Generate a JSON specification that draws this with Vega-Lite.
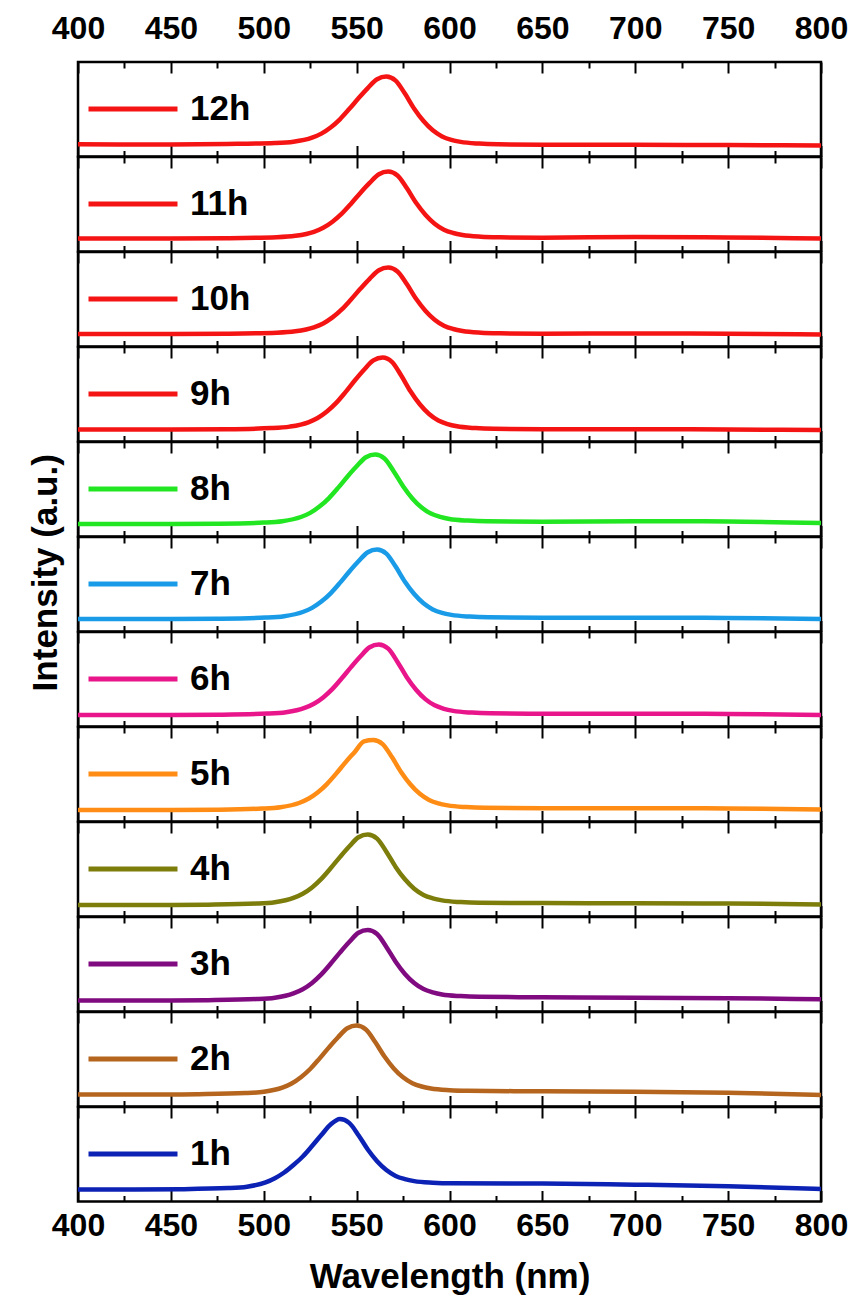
{
"$schema":"https://vega.github.io/schema/vega-lite/v6.json",
"padding":{"left":29,"top":5,"right":0,"bottom":0},
"background":"white",
"title":{"text":"Intensity (a.u.)","orient":"left","anchor":"middle","frame":"bounds","offset":-14,"dx":78,"font":"Liberation Sans","fontSize":35,"fontWeight":"bold","color":"black"},
"data":{"values":[
{"s":"12h","nm":400,"v":12.2},{"s":"12h","nm":450,"v":12},{"s":"12h","nm":480,"v":12.5},{"s":"12h","nm":506,"v":13.4},{"s":"12h","nm":516,"v":14.7},{"s":"12h","nm":526,"v":18.8},{"s":"12h","nm":531,"v":22.9},{"s":"12h","nm":536,"v":29},{"s":"12h","nm":541,"v":37.2},{"s":"12h","nm":546,"v":47.4},{"s":"12h","nm":551,"v":58.2},{"s":"12h","nm":556,"v":68.4},{"s":"12h","nm":561,"v":77.3},{"s":"12h","nm":566,"v":80},{"s":"12h","nm":571,"v":75.9},{"s":"12h","nm":576,"v":62.9},{"s":"12h","nm":581,"v":47.8},{"s":"12h","nm":586,"v":35.5},{"s":"12h","nm":591,"v":26.2},{"s":"12h","nm":596,"v":20.1},{"s":"12h","nm":601,"v":16.6},{"s":"12h","nm":606,"v":14.6},{"s":"12h","nm":616,"v":12.9},{"s":"12h","nm":626,"v":12.2},{"s":"12h","nm":650,"v":11.8},{"s":"12h","nm":700,"v":11.7},{"s":"12h","nm":750,"v":11.5},{"s":"12h","nm":800,"v":11},
{"s":"11h","nm":400,"v":13},{"s":"11h","nm":450,"v":13},{"s":"11h","nm":480,"v":13.3},{"s":"11h","nm":507,"v":14.3},{"s":"11h","nm":517,"v":15.7},{"s":"11h","nm":527,"v":19.7},{"s":"11h","nm":532,"v":23.7},{"s":"11h","nm":537,"v":29.8},{"s":"11h","nm":542,"v":37.8},{"s":"11h","nm":547,"v":47.8},{"s":"11h","nm":552,"v":58.6},{"s":"11h","nm":557,"v":68.6},{"s":"11h","nm":562,"v":77.3},{"s":"11h","nm":567,"v":80},{"s":"11h","nm":572,"v":76},{"s":"11h","nm":577,"v":63.4},{"s":"11h","nm":582,"v":48.7},{"s":"11h","nm":587,"v":36.8},{"s":"11h","nm":592,"v":27.8},{"s":"11h","nm":597,"v":21.8},{"s":"11h","nm":602,"v":18.5},{"s":"11h","nm":607,"v":16.5},{"s":"11h","nm":617,"v":14.8},{"s":"11h","nm":627,"v":14.2},{"s":"11h","nm":650,"v":13.8},{"s":"11h","nm":700,"v":14.5},{"s":"11h","nm":750,"v":14},{"s":"11h","nm":800,"v":13},
{"s":"10h","nm":400,"v":12.5},{"s":"10h","nm":450,"v":12.5},{"s":"10h","nm":480,"v":12.8},{"s":"10h","nm":507,"v":13.8},{"s":"10h","nm":517,"v":15.2},{"s":"10h","nm":527,"v":19.2},{"s":"10h","nm":532,"v":23.1},{"s":"10h","nm":537,"v":29.1},{"s":"10h","nm":542,"v":37.1},{"s":"10h","nm":547,"v":47.1},{"s":"10h","nm":552,"v":57.7},{"s":"10h","nm":557,"v":67.7},{"s":"10h","nm":562,"v":76.3},{"s":"10h","nm":567,"v":79},{"s":"10h","nm":572,"v":75},{"s":"10h","nm":577,"v":62.4},{"s":"10h","nm":582,"v":47.7},{"s":"10h","nm":587,"v":35.8},{"s":"10h","nm":592,"v":26.8},{"s":"10h","nm":597,"v":20.8},{"s":"10h","nm":602,"v":17.5},{"s":"10h","nm":607,"v":15.5},{"s":"10h","nm":617,"v":13.8},{"s":"10h","nm":627,"v":13.2},{"s":"10h","nm":650,"v":12.8},{"s":"10h","nm":700,"v":13},{"s":"10h","nm":750,"v":12.8},{"s":"10h","nm":800,"v":12},
{"s":"9h","nm":400,"v":12},{"s":"9h","nm":450,"v":12},{"s":"9h","nm":480,"v":12.3},{"s":"9h","nm":504,"v":13.4},{"s":"9h","nm":514,"v":14.9},{"s":"9h","nm":524,"v":19.2},{"s":"9h","nm":529,"v":23.5},{"s":"9h","nm":534,"v":30},{"s":"9h","nm":539,"v":38.6},{"s":"9h","nm":544,"v":49.4},{"s":"9h","nm":549,"v":61},{"s":"9h","nm":554,"v":71.8},{"s":"9h","nm":559,"v":81.1},{"s":"9h","nm":564,"v":84},{"s":"9h","nm":569,"v":79.7},{"s":"9h","nm":574,"v":66},{"s":"9h","nm":579,"v":50.2},{"s":"9h","nm":584,"v":37.2},{"s":"9h","nm":589,"v":27.5},{"s":"9h","nm":594,"v":21},{"s":"9h","nm":599,"v":17.4},{"s":"9h","nm":604,"v":15.2},{"s":"9h","nm":614,"v":13.4},{"s":"9h","nm":624,"v":12.7},{"s":"9h","nm":650,"v":12.3},{"s":"9h","nm":700,"v":12.3},{"s":"9h","nm":750,"v":12},{"s":"9h","nm":800,"v":11.5},
{"s":"8h","nm":400,"v":12.5},{"s":"8h","nm":450,"v":12.5},{"s":"8h","nm":475,"v":12.8},{"s":"8h","nm":500,"v":13.9},{"s":"8h","nm":510,"v":15.3},{"s":"8h","nm":520,"v":19.5},{"s":"8h","nm":525,"v":23.6},{"s":"8h","nm":530,"v":29.9},{"s":"8h","nm":535,"v":38.2},{"s":"8h","nm":540,"v":48.6},{"s":"8h","nm":545,"v":59.8},{"s":"8h","nm":550,"v":70.2},{"s":"8h","nm":555,"v":79.2},{"s":"8h","nm":560,"v":82},{"s":"8h","nm":565,"v":78},{"s":"8h","nm":570,"v":65.1},{"s":"8h","nm":575,"v":50.3},{"s":"8h","nm":580,"v":38.1},{"s":"8h","nm":585,"v":29},{"s":"8h","nm":590,"v":22.9},{"s":"8h","nm":595,"v":19.6},{"s":"8h","nm":600,"v":17.5},{"s":"8h","nm":610,"v":15.9},{"s":"8h","nm":620,"v":15.2},{"s":"8h","nm":650,"v":14.8},{"s":"8h","nm":700,"v":15.3},{"s":"8h","nm":750,"v":15},{"s":"8h","nm":800,"v":13.5},
{"s":"7h","nm":400,"v":12.5},{"s":"7h","nm":450,"v":12.5},{"s":"7h","nm":475,"v":12.8},{"s":"7h","nm":501,"v":13.9},{"s":"7h","nm":511,"v":15.3},{"s":"7h","nm":521,"v":19.5},{"s":"7h","nm":526,"v":23.6},{"s":"7h","nm":531,"v":29.9},{"s":"7h","nm":536,"v":38.2},{"s":"7h","nm":541,"v":48.6},{"s":"7h","nm":546,"v":59.8},{"s":"7h","nm":551,"v":70.2},{"s":"7h","nm":556,"v":79.2},{"s":"7h","nm":561,"v":82},{"s":"7h","nm":566,"v":77.9},{"s":"7h","nm":571,"v":64.9},{"s":"7h","nm":576,"v":49.8},{"s":"7h","nm":581,"v":37.5},{"s":"7h","nm":586,"v":28.2},{"s":"7h","nm":591,"v":22.1},{"s":"7h","nm":596,"v":18.6},{"s":"7h","nm":601,"v":16.6},{"s":"7h","nm":611,"v":14.9},{"s":"7h","nm":621,"v":14.2},{"s":"7h","nm":650,"v":13.8},{"s":"7h","nm":700,"v":13.8},{"s":"7h","nm":750,"v":13.5},{"s":"7h","nm":800,"v":12.5},
{"s":"6h","nm":400,"v":11.5},{"s":"6h","nm":450,"v":11.5},{"s":"6h","nm":475,"v":11.8},{"s":"6h","nm":502,"v":12.9},{"s":"6h","nm":512,"v":14.3},{"s":"6h","nm":522,"v":18.6},{"s":"6h","nm":527,"v":22.8},{"s":"6h","nm":532,"v":29.1},{"s":"6h","nm":537,"v":37.6},{"s":"6h","nm":542,"v":48.2},{"s":"6h","nm":547,"v":59.4},{"s":"6h","nm":552,"v":70},{"s":"6h","nm":557,"v":79.2},{"s":"6h","nm":562,"v":82},{"s":"6h","nm":567,"v":77.8},{"s":"6h","nm":572,"v":64.6},{"s":"6h","nm":577,"v":49.3},{"s":"6h","nm":582,"v":36.8},{"s":"6h","nm":587,"v":27.4},{"s":"6h","nm":592,"v":21.2},{"s":"6h","nm":597,"v":17.7},{"s":"6h","nm":602,"v":15.6},{"s":"6h","nm":612,"v":13.9},{"s":"6h","nm":622,"v":13.2},{"s":"6h","nm":650,"v":12.8},{"s":"6h","nm":700,"v":12.8},{"s":"6h","nm":750,"v":12.5},{"s":"6h","nm":800,"v":11.5},
{"s":"5h","nm":400,"v":11.5},{"s":"5h","nm":450,"v":11.5},{"s":"5h","nm":475,"v":11.8},{"s":"5h","nm":499,"v":12.9},{"s":"5h","nm":509,"v":14.3},{"s":"5h","nm":519,"v":18.5},{"s":"5h","nm":524,"v":22.7},{"s":"5h","nm":529,"v":29},{"s":"5h","nm":534,"v":37.4},{"s":"5h","nm":539,"v":47.9},{"s":"5h","nm":544,"v":59.1},{"s":"5h","nm":549,"v":69.6},{"s":"5h","nm":554,"v":80.1},{"s":"5h","nm":559,"v":81.5},{"s":"5h","nm":564,"v":77.4},{"s":"5h","nm":569,"v":64.4},{"s":"5h","nm":574,"v":49.3},{"s":"5h","nm":579,"v":37},{"s":"5h","nm":584,"v":27.7},{"s":"5h","nm":589,"v":21.6},{"s":"5h","nm":594,"v":18.1},{"s":"5h","nm":599,"v":16.1},{"s":"5h","nm":609,"v":14.4},{"s":"5h","nm":619,"v":13.7},{"s":"5h","nm":650,"v":13.3},{"s":"5h","nm":700,"v":13.3},{"s":"5h","nm":750,"v":13},{"s":"5h","nm":800,"v":12},
{"s":"4h","nm":400,"v":11.5},{"s":"4h","nm":450,"v":11.5},{"s":"4h","nm":470,"v":11.8},{"s":"4h","nm":496,"v":12.9},{"s":"4h","nm":506,"v":14.3},{"s":"4h","nm":516,"v":18.6},{"s":"4h","nm":521,"v":22.8},{"s":"4h","nm":526,"v":29.1},{"s":"4h","nm":531,"v":37.6},{"s":"4h","nm":536,"v":48.2},{"s":"4h","nm":541,"v":59.4},{"s":"4h","nm":546,"v":70},{"s":"4h","nm":551,"v":79.2},{"s":"4h","nm":556,"v":82},{"s":"4h","nm":561,"v":77.9},{"s":"4h","nm":566,"v":64.8},{"s":"4h","nm":571,"v":49.6},{"s":"4h","nm":576,"v":37.2},{"s":"4h","nm":581,"v":27.8},{"s":"4h","nm":586,"v":21.6},{"s":"4h","nm":591,"v":18.2},{"s":"4h","nm":596,"v":16.1},{"s":"4h","nm":606,"v":14.4},{"s":"4h","nm":616,"v":13.7},{"s":"4h","nm":650,"v":13.4},{"s":"4h","nm":700,"v":13.3},{"s":"4h","nm":750,"v":13},{"s":"4h","nm":800,"v":12},
{"s":"3h","nm":400,"v":11},{"s":"3h","nm":450,"v":11},{"s":"3h","nm":470,"v":11.3},{"s":"3h","nm":496,"v":12.4},{"s":"3h","nm":506,"v":13.8},{"s":"3h","nm":516,"v":18.1},{"s":"3h","nm":521,"v":22.3},{"s":"3h","nm":526,"v":28.6},{"s":"3h","nm":531,"v":37.1},{"s":"3h","nm":536,"v":47.7},{"s":"3h","nm":541,"v":58.9},{"s":"3h","nm":546,"v":69.5},{"s":"3h","nm":551,"v":78.7},{"s":"3h","nm":556,"v":81.5},{"s":"3h","nm":561,"v":77.5},{"s":"3h","nm":566,"v":64.6},{"s":"3h","nm":571,"v":49.8},{"s":"3h","nm":576,"v":37.6},{"s":"3h","nm":581,"v":28.5},{"s":"3h","nm":586,"v":22.4},{"s":"3h","nm":591,"v":19.1},{"s":"3h","nm":596,"v":17},{"s":"3h","nm":606,"v":15.4},{"s":"3h","nm":616,"v":14.7},{"s":"3h","nm":650,"v":14.2},{"s":"3h","nm":700,"v":13.8},{"s":"3h","nm":750,"v":13.3},{"s":"3h","nm":800,"v":12.3},
{"s":"2h","nm":400,"v":12},{"s":"2h","nm":450,"v":12},{"s":"2h","nm":465,"v":12.3},{"s":"2h","nm":490,"v":13.4},{"s":"2h","nm":500,"v":14.8},{"s":"2h","nm":510,"v":18.9},{"s":"2h","nm":515,"v":23},{"s":"2h","nm":520,"v":29.3},{"s":"2h","nm":525,"v":37.5},{"s":"2h","nm":530,"v":47.9},{"s":"2h","nm":535,"v":58.9},{"s":"2h","nm":540,"v":69.3},{"s":"2h","nm":545,"v":78.2},{"s":"2h","nm":550,"v":81},{"s":"2h","nm":555,"v":77},{"s":"2h","nm":560,"v":64.5},{"s":"2h","nm":565,"v":50},{"s":"2h","nm":570,"v":38.1},{"s":"2h","nm":575,"v":29.2},{"s":"2h","nm":580,"v":23.3},{"s":"2h","nm":585,"v":20},{"s":"2h","nm":590,"v":18},{"s":"2h","nm":600,"v":16.3},{"s":"2h","nm":610,"v":15.7},{"s":"2h","nm":650,"v":15.2},{"s":"2h","nm":700,"v":14.8},{"s":"2h","nm":750,"v":13.8},{"s":"2h","nm":800,"v":11.5},
{"s":"1h","nm":400,"v":12},{"s":"1h","nm":430,"v":12},{"s":"1h","nm":455,"v":12.3},{"s":"1h","nm":481,"v":13.4},{"s":"1h","nm":491,"v":14.8},{"s":"1h","nm":501,"v":19.1},{"s":"1h","nm":506,"v":23.3},{"s":"1h","nm":511,"v":29},{"s":"1h","nm":516,"v":36.5},{"s":"1h","nm":521,"v":45},{"s":"1h","nm":526,"v":55.5},{"s":"1h","nm":531,"v":66.5},{"s":"1h","nm":536,"v":77},{"s":"1h","nm":541,"v":82.5},{"s":"1h","nm":546,"v":78.6},{"s":"1h","nm":551,"v":66.3},{"s":"1h","nm":556,"v":52},{"s":"1h","nm":561,"v":40.3},{"s":"1h","nm":566,"v":31.5},{"s":"1h","nm":571,"v":25.6},{"s":"1h","nm":576,"v":22.4},{"s":"1h","nm":581,"v":20.4},{"s":"1h","nm":591,"v":18.8},{"s":"1h","nm":601,"v":18.2},{"s":"1h","nm":650,"v":18},{"s":"1h","nm":700,"v":16.8},{"s":"1h","nm":750,"v":15.3},{"s":"1h","nm":800,"v":12.5}
]},
"bounds":"flush",
"spacing":0,
"resolve":{"scale":{"color":"independent","x":"independent","y":"independent"},"axis":{"x":"independent","y":"independent"},"legend":{"color":"independent"}},
"vconcat":[
{"width":743,"height":94.5,"transform":[{"filter":"datum.s === '12h'"}],"layer":[
 {"mark":{"type":"line","strokeWidth":4.5,"interpolate":"monotone"},"encoding":{
  "x":{"field":"nm","type":"quantitative","scale":{"domain":[400,800],"nice":false,"zero":false},"axis":{"orient":"bottom","values":[400,425,450,475,500,525,550,575,600,625,650,675,700,725,750,775,800],"labels":false,"title":null,"tickSize":{"condition":{"test":"datum.value % 50 === 0","value":-11},"value":-6}}},
  "y":{"field":"v","type":"quantitative","scale":{"domain":[0,94.5],"nice":false,"zero":false},"axis":null},
  "color":{"field":"s","type":"nominal","scale":{"domain":["12h"],"range":["#f51414"]},"legend":{"title":null,"orient":"none","legendX":8,"legendY":0}}}},
 {"mark":{"type":"line","opacity":0},"encoding":{
  "x":{"field":"nm","type":"quantitative","axis":{"orient":"top","values":[400,425,450,475,500,525,550,575,600,625,650,675,700,725,750,775,800],"title":null,"labelExpr":"datum.value % 50 === 0 ? datum.label : ''","labelPadding":28,"tickSize":{"condition":{"test":"datum.value % 50 === 0","value":-11},"value":-6}}},
  "y":{"field":"v","type":"quantitative","axis":null}}}]},
{"width":743,"height":94.5,"transform":[{"filter":"datum.s === '11h'"}],"layer":[
 {"mark":{"type":"line","strokeWidth":4.5,"interpolate":"monotone"},"encoding":{
  "x":{"field":"nm","type":"quantitative","scale":{"domain":[400,800],"nice":false,"zero":false},"axis":{"orient":"bottom","values":[400,425,450,475,500,525,550,575,600,625,650,675,700,725,750,775,800],"labels":false,"title":null,"tickSize":{"condition":{"test":"datum.value % 50 === 0","value":-11},"value":-6}}},
  "y":{"field":"v","type":"quantitative","scale":{"domain":[0,94.5],"nice":false,"zero":false},"axis":null},
  "color":{"field":"s","type":"nominal","scale":{"domain":["11h"],"range":["#f51414"]},"legend":{"title":null,"orient":"none","legendX":8,"legendY":0}}}},
 {"mark":{"type":"line","opacity":0},"encoding":{
  "x":{"field":"nm","type":"quantitative","axis":{"orient":"top","values":[400,425,450,475,500,525,550,575,600,625,650,675,700,725,750,775,800],"labels":false,"title":null,"tickSize":{"condition":{"test":"datum.value % 50 === 0","value":-11},"value":-6}}},
  "y":{"field":"v","type":"quantitative","axis":null}}}]},
{"width":743,"height":94.5,"transform":[{"filter":"datum.s === '10h'"}],"layer":[
 {"mark":{"type":"line","strokeWidth":4.5,"interpolate":"monotone"},"encoding":{
  "x":{"field":"nm","type":"quantitative","scale":{"domain":[400,800],"nice":false,"zero":false},"axis":{"orient":"bottom","values":[400,425,450,475,500,525,550,575,600,625,650,675,700,725,750,775,800],"labels":false,"title":null,"tickSize":{"condition":{"test":"datum.value % 50 === 0","value":-11},"value":-6}}},
  "y":{"field":"v","type":"quantitative","scale":{"domain":[0,94.5],"nice":false,"zero":false},"axis":null},
  "color":{"field":"s","type":"nominal","scale":{"domain":["10h"],"range":["#f51414"]},"legend":{"title":null,"orient":"none","legendX":8,"legendY":0}}}},
 {"mark":{"type":"line","opacity":0},"encoding":{
  "x":{"field":"nm","type":"quantitative","axis":{"orient":"top","values":[400,425,450,475,500,525,550,575,600,625,650,675,700,725,750,775,800],"labels":false,"title":null,"tickSize":{"condition":{"test":"datum.value % 50 === 0","value":-11},"value":-6}}},
  "y":{"field":"v","type":"quantitative","axis":null}}}]},
{"width":743,"height":94.5,"transform":[{"filter":"datum.s === '9h'"}],"layer":[
 {"mark":{"type":"line","strokeWidth":4.5,"interpolate":"monotone"},"encoding":{
  "x":{"field":"nm","type":"quantitative","scale":{"domain":[400,800],"nice":false,"zero":false},"axis":{"orient":"bottom","values":[400,425,450,475,500,525,550,575,600,625,650,675,700,725,750,775,800],"labels":false,"title":null,"tickSize":{"condition":{"test":"datum.value % 50 === 0","value":-11},"value":-6}}},
  "y":{"field":"v","type":"quantitative","scale":{"domain":[0,94.5],"nice":false,"zero":false},"axis":null},
  "color":{"field":"s","type":"nominal","scale":{"domain":["9h"],"range":["#f51414"]},"legend":{"title":null,"orient":"none","legendX":8,"legendY":0}}}},
 {"mark":{"type":"line","opacity":0},"encoding":{
  "x":{"field":"nm","type":"quantitative","axis":{"orient":"top","values":[400,425,450,475,500,525,550,575,600,625,650,675,700,725,750,775,800],"labels":false,"title":null,"tickSize":{"condition":{"test":"datum.value % 50 === 0","value":-11},"value":-6}}},
  "y":{"field":"v","type":"quantitative","axis":null}}}]},
{"width":743,"height":94.5,"transform":[{"filter":"datum.s === '8h'"}],"layer":[
 {"mark":{"type":"line","strokeWidth":4.5,"interpolate":"monotone"},"encoding":{
  "x":{"field":"nm","type":"quantitative","scale":{"domain":[400,800],"nice":false,"zero":false},"axis":{"orient":"bottom","values":[400,425,450,475,500,525,550,575,600,625,650,675,700,725,750,775,800],"labels":false,"title":null,"tickSize":{"condition":{"test":"datum.value % 50 === 0","value":-11},"value":-6}}},
  "y":{"field":"v","type":"quantitative","scale":{"domain":[0,94.5],"nice":false,"zero":false},"axis":null},
  "color":{"field":"s","type":"nominal","scale":{"domain":["8h"],"range":["#22e622"]},"legend":{"title":null,"orient":"none","legendX":8,"legendY":0}}}},
 {"mark":{"type":"line","opacity":0},"encoding":{
  "x":{"field":"nm","type":"quantitative","axis":{"orient":"top","values":[400,425,450,475,500,525,550,575,600,625,650,675,700,725,750,775,800],"labels":false,"title":null,"tickSize":{"condition":{"test":"datum.value % 50 === 0","value":-11},"value":-6}}},
  "y":{"field":"v","type":"quantitative","axis":null}}}]},
{"width":743,"height":94.5,"transform":[{"filter":"datum.s === '7h'"}],"layer":[
 {"mark":{"type":"line","strokeWidth":4.5,"interpolate":"monotone"},"encoding":{
  "x":{"field":"nm","type":"quantitative","scale":{"domain":[400,800],"nice":false,"zero":false},"axis":{"orient":"bottom","values":[400,425,450,475,500,525,550,575,600,625,650,675,700,725,750,775,800],"labels":false,"title":null,"tickSize":{"condition":{"test":"datum.value % 50 === 0","value":-11},"value":-6}}},
  "y":{"field":"v","type":"quantitative","scale":{"domain":[0,94.5],"nice":false,"zero":false},"axis":null},
  "color":{"field":"s","type":"nominal","scale":{"domain":["7h"],"range":["#1a9be8"]},"legend":{"title":null,"orient":"none","legendX":8,"legendY":0}}}},
 {"mark":{"type":"line","opacity":0},"encoding":{
  "x":{"field":"nm","type":"quantitative","axis":{"orient":"top","values":[400,425,450,475,500,525,550,575,600,625,650,675,700,725,750,775,800],"labels":false,"title":null,"tickSize":{"condition":{"test":"datum.value % 50 === 0","value":-11},"value":-6}}},
  "y":{"field":"v","type":"quantitative","axis":null}}}]},
{"width":743,"height":94.5,"transform":[{"filter":"datum.s === '6h'"}],"layer":[
 {"mark":{"type":"line","strokeWidth":4.5,"interpolate":"monotone"},"encoding":{
  "x":{"field":"nm","type":"quantitative","scale":{"domain":[400,800],"nice":false,"zero":false},"axis":{"orient":"bottom","values":[400,425,450,475,500,525,550,575,600,625,650,675,700,725,750,775,800],"labels":false,"title":null,"tickSize":{"condition":{"test":"datum.value % 50 === 0","value":-11},"value":-6}}},
  "y":{"field":"v","type":"quantitative","scale":{"domain":[0,94.5],"nice":false,"zero":false},"axis":null},
  "color":{"field":"s","type":"nominal","scale":{"domain":["6h"],"range":["#e8168a"]},"legend":{"title":null,"orient":"none","legendX":8,"legendY":0}}}},
 {"mark":{"type":"line","opacity":0},"encoding":{
  "x":{"field":"nm","type":"quantitative","axis":{"orient":"top","values":[400,425,450,475,500,525,550,575,600,625,650,675,700,725,750,775,800],"labels":false,"title":null,"tickSize":{"condition":{"test":"datum.value % 50 === 0","value":-11},"value":-6}}},
  "y":{"field":"v","type":"quantitative","axis":null}}}]},
{"width":743,"height":94.5,"transform":[{"filter":"datum.s === '5h'"}],"layer":[
 {"mark":{"type":"line","strokeWidth":4.5,"interpolate":"monotone"},"encoding":{
  "x":{"field":"nm","type":"quantitative","scale":{"domain":[400,800],"nice":false,"zero":false},"axis":{"orient":"bottom","values":[400,425,450,475,500,525,550,575,600,625,650,675,700,725,750,775,800],"labels":false,"title":null,"tickSize":{"condition":{"test":"datum.value % 50 === 0","value":-11},"value":-6}}},
  "y":{"field":"v","type":"quantitative","scale":{"domain":[0,94.5],"nice":false,"zero":false},"axis":null},
  "color":{"field":"s","type":"nominal","scale":{"domain":["5h"],"range":["#ff8c14"]},"legend":{"title":null,"orient":"none","legendX":8,"legendY":0}}}},
 {"mark":{"type":"line","opacity":0},"encoding":{
  "x":{"field":"nm","type":"quantitative","axis":{"orient":"top","values":[400,425,450,475,500,525,550,575,600,625,650,675,700,725,750,775,800],"labels":false,"title":null,"tickSize":{"condition":{"test":"datum.value % 50 === 0","value":-11},"value":-6}}},
  "y":{"field":"v","type":"quantitative","axis":null}}}]},
{"width":743,"height":94.5,"transform":[{"filter":"datum.s === '4h'"}],"layer":[
 {"mark":{"type":"line","strokeWidth":4.5,"interpolate":"monotone"},"encoding":{
  "x":{"field":"nm","type":"quantitative","scale":{"domain":[400,800],"nice":false,"zero":false},"axis":{"orient":"bottom","values":[400,425,450,475,500,525,550,575,600,625,650,675,700,725,750,775,800],"labels":false,"title":null,"tickSize":{"condition":{"test":"datum.value % 50 === 0","value":-11},"value":-6}}},
  "y":{"field":"v","type":"quantitative","scale":{"domain":[0,94.5],"nice":false,"zero":false},"axis":null},
  "color":{"field":"s","type":"nominal","scale":{"domain":["4h"],"range":["#7d7d0c"]},"legend":{"title":null,"orient":"none","legendX":8,"legendY":0}}}},
 {"mark":{"type":"line","opacity":0},"encoding":{
  "x":{"field":"nm","type":"quantitative","axis":{"orient":"top","values":[400,425,450,475,500,525,550,575,600,625,650,675,700,725,750,775,800],"labels":false,"title":null,"tickSize":{"condition":{"test":"datum.value % 50 === 0","value":-11},"value":-6}}},
  "y":{"field":"v","type":"quantitative","axis":null}}}]},
{"width":743,"height":94.5,"transform":[{"filter":"datum.s === '3h'"}],"layer":[
 {"mark":{"type":"line","strokeWidth":4.5,"interpolate":"monotone"},"encoding":{
  "x":{"field":"nm","type":"quantitative","scale":{"domain":[400,800],"nice":false,"zero":false},"axis":{"orient":"bottom","values":[400,425,450,475,500,525,550,575,600,625,650,675,700,725,750,775,800],"labels":false,"title":null,"tickSize":{"condition":{"test":"datum.value % 50 === 0","value":-11},"value":-6}}},
  "y":{"field":"v","type":"quantitative","scale":{"domain":[0,94.5],"nice":false,"zero":false},"axis":null},
  "color":{"field":"s","type":"nominal","scale":{"domain":["3h"],"range":["#800a80"]},"legend":{"title":null,"orient":"none","legendX":8,"legendY":0}}}},
 {"mark":{"type":"line","opacity":0},"encoding":{
  "x":{"field":"nm","type":"quantitative","axis":{"orient":"top","values":[400,425,450,475,500,525,550,575,600,625,650,675,700,725,750,775,800],"labels":false,"title":null,"tickSize":{"condition":{"test":"datum.value % 50 === 0","value":-11},"value":-6}}},
  "y":{"field":"v","type":"quantitative","axis":null}}}]},
{"width":743,"height":94.5,"transform":[{"filter":"datum.s === '2h'"}],"layer":[
 {"mark":{"type":"line","strokeWidth":4.5,"interpolate":"monotone"},"encoding":{
  "x":{"field":"nm","type":"quantitative","scale":{"domain":[400,800],"nice":false,"zero":false},"axis":{"orient":"bottom","values":[400,425,450,475,500,525,550,575,600,625,650,675,700,725,750,775,800],"labels":false,"title":null,"tickSize":{"condition":{"test":"datum.value % 50 === 0","value":-11},"value":-6}}},
  "y":{"field":"v","type":"quantitative","scale":{"domain":[0,94.5],"nice":false,"zero":false},"axis":null},
  "color":{"field":"s","type":"nominal","scale":{"domain":["2h"],"range":["#b5651d"]},"legend":{"title":null,"orient":"none","legendX":8,"legendY":0}}}},
 {"mark":{"type":"line","opacity":0},"encoding":{
  "x":{"field":"nm","type":"quantitative","axis":{"orient":"top","values":[400,425,450,475,500,525,550,575,600,625,650,675,700,725,750,775,800],"labels":false,"title":null,"tickSize":{"condition":{"test":"datum.value % 50 === 0","value":-11},"value":-6}}},
  "y":{"field":"v","type":"quantitative","axis":null}}}]},
{"width":743,"height":94.5,"transform":[{"filter":"datum.s === '1h'"}],"layer":[
 {"mark":{"type":"line","strokeWidth":4.5,"interpolate":"monotone"},"encoding":{
  "x":{"field":"nm","type":"quantitative","scale":{"domain":[400,800],"nice":false,"zero":false},"axis":{"orient":"bottom","values":[400,425,450,475,500,525,550,575,600,625,650,675,700,725,750,775,800],"title":"Wavelength (nm)","labelExpr":"datum.value % 50 === 0 ? datum.label : ''","labelPadding":20,"titlePadding":13,"tickSize":{"condition":{"test":"datum.value % 50 === 0","value":-11},"value":-6}}},
  "y":{"field":"v","type":"quantitative","scale":{"domain":[0,94.5],"nice":false,"zero":false},"axis":null},
  "color":{"field":"s","type":"nominal","scale":{"domain":["1h"],"range":["#0c22b4"]},"legend":{"title":null,"orient":"none","legendX":8,"legendY":0,"labelExpr":"' ' + datum.label"}}}},
 {"mark":{"type":"line","opacity":0},"encoding":{
  "x":{"field":"nm","type":"quantitative","axis":{"orient":"top","values":[400,425,450,475,500,525,550,575,600,625,650,675,700,725,750,775,800],"labels":false,"title":null,"tickSize":{"condition":{"test":"datum.value % 50 === 0","value":-11},"value":-6}}},
  "y":{"field":"v","type":"quantitative","axis":null}}}]}
],
"config":{
 "font":"Liberation Sans",
 "view":{"stroke":"black","strokeWidth":2.5},
 "axis":{"grid":false,"domain":false,"tickColor":"black","tickWidth":2,"labelFont":"Liberation Sans","labelFontSize":32,"labelFontWeight":"bold","labelColor":"black","labelOverlap":false,"labelFlush":false,"titleFont":"Liberation Sans","titleFontSize":35,"titleFontWeight":"bold","titleColor":"black"},
 "legend":{"symbolType":"stroke","symbolSize":7921,"symbolStrokeWidth":5,"labelFont":"Liberation Sans","labelFontSize":35,"labelFontWeight":"bold","labelColor":"black","labelOffset":10,"padding":0}
}
}
